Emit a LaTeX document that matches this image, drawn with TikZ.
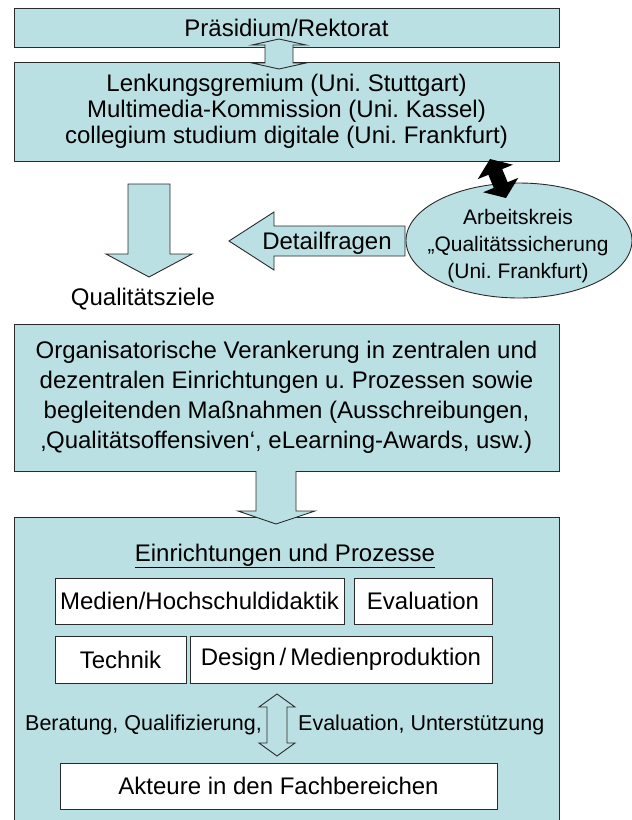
\documentclass[tikz,border=0pt]{standalone}
\usepackage{fontspec}
\setmainfont{Liberation Sans}
\usetikzlibrary{shapes.geometric,calc}
\definecolor{teal1}{HTML}{BBE0E3}
\definecolor{edge}{HTML}{2A2A2A}
\begin{document}
\frenchspacing
\begin{tikzpicture}[x=1pt,y=-1pt,
  box/.style={draw=edge,line width=0.9pt,fill=teal1,inner sep=0pt,align=center,font=\fontsize{24}{26}\selectfont},
  wbox/.style={draw=edge,line width=0.9pt,fill=white,inner sep=0pt,font=\fontsize{24}{26}\selectfont},
  blockarrow/.style={draw=edge,line width=0.9pt,fill=teal1,line join=miter},
  lbl/.style={inner sep=0pt,font=\fontsize{24}{26}\selectfont},
  slbl/.style={inner sep=0pt,font=\fontsize{21.5}{24}\selectfont},
]
\useasboundingbox (0,0) rectangle (632,820);
% top boxes
\node[box,minimum width=545pt,minimum height=39pt] (b1) at (286.5,27.5) {Präsidium/Rektorat};
\node[box,minimum width=545pt,minimum height=99pt] (b2) at (286.5,111.5)
  {Lenkungsgremium (Uni. Stuttgart)\\Multimedia-Kommission (Uni. Kassel)\\collegium studium digitale (Uni. Frankfurt)};
% double arrow b1 <-> b2
\draw[blockarrow] (279,39) -- (306,45) -- (293,45) -- (293,63) -- (306,63) -- (279,69)
  -- (252,63) -- (265,63) -- (265,45) -- (252,45) -- cycle;
% down arrow to Qualitaetsziele
\draw[blockarrow] (128,184) -- (170,184) -- (170,254) -- (192,254) -- (149,277) -- (106,254) -- (128,254) -- cycle;
\node[lbl,anchor=base] (qz) at (143,305) {Qualitätsziele};
% ellipse
\node[draw=edge,line width=0.9pt,fill=teal1,ellipse,minimum width=226pt,minimum height=115pt,inner sep=0pt] (ak) at (519,240.5) {};
\node[inner sep=0pt,align=center,font=\fontsize{21}{27}\selectfont] (akt) at (518,246)
  {Arbeitskreis\\„Qualitätssicherung\\(Uni. Frankfurt)};
% Detailfragen arrow
\draw[blockarrow] (405,226) -- (274,226) -- (274,212) -- (229,241) -- (274,270) -- (274,256) -- (405,256) -- cycle;
\node[lbl,anchor=base] (df) at (327,249) {Detailfragen};
% black double arrow
\coordinate (ba) at (490,159);
\coordinate (bb) at (506,198);
\coordinate (pa) at ($(ba)!14pt!(bb)$);
\coordinate (pb) at ($(bb)!14pt!(ba)$);
\fill[black] (ba) -- ($(pa)!19pt!90:(bb)$) -- ($(pa)!7.5pt!90:(bb)$) -- ($(pb)!7.5pt!-90:(ba)$) -- ($(pb)!19pt!-90:(ba)$)
  -- (bb) -- ($(pb)!19pt!90:(ba)$) -- ($(pb)!7.5pt!90:(ba)$) -- ($(pa)!7.5pt!-90:(bb)$) -- ($(pa)!19pt!-90:(bb)$) -- cycle;
% box 3
\node[box,minimum width=545pt,minimum height=147pt,font=\fontsize{24}{30}\selectfont] (b3) at (286.5,397.5)
  {Organisatorische Verankerung in zentralen und\\dezentralen Einrichtungen u. Prozessen sowie\\begleitenden Maßnahmen (Ausschreibungen,\\‚Qualitätsoffensiven‘, eLearning-Awards, usw.)};
% box 4
\node[box,minimum width=545pt,minimum height=305pt] (b4) at (286.5,669.5) {};
% arrow b3 -> b4
\draw[blockarrow] (256,471) -- (256,511) -- (238,511) -- (276,524) -- (315,511) -- (296,511) -- (296,471);
\node[lbl,anchor=base] (ttl) at (285,561) {\underline{Einrichtungen und Prozesse}};
\node[wbox,minimum width=289pt,minimum height=46pt] (med) at (199.5,601) {Medien/Hochschuldidaktik};
\node[wbox,minimum width=138pt,minimum height=46pt] (ev) at (423,601) {Evaluation};
\node[wbox,minimum width=131pt,minimum height=47pt] (tech) at (120.5,659.5) {Technik};
\node[wbox,minimum width=302pt,minimum height=47pt] (des) at (341,659.5) {Design\,/\,Medienproduktion};
\draw[blockarrow] (277,694) -- (295,707) -- (287,707) -- (287,743) -- (295,743) -- (277,756)
  -- (259,743) -- (267,743) -- (267,707) -- (259,707) -- cycle;
\node[slbl,anchor=base east] (ber) at (262,730) {Beratung, Qualifizierung,};
\node[slbl,anchor=base west] (evu) at (298,730) {Evaluation, Unterstützung};
\node[wbox,minimum width=437pt,minimum height=46pt] (akt2) at (278.5,786) {Akteure in den Fachbereichen};
\end{tikzpicture}
\end{document}
